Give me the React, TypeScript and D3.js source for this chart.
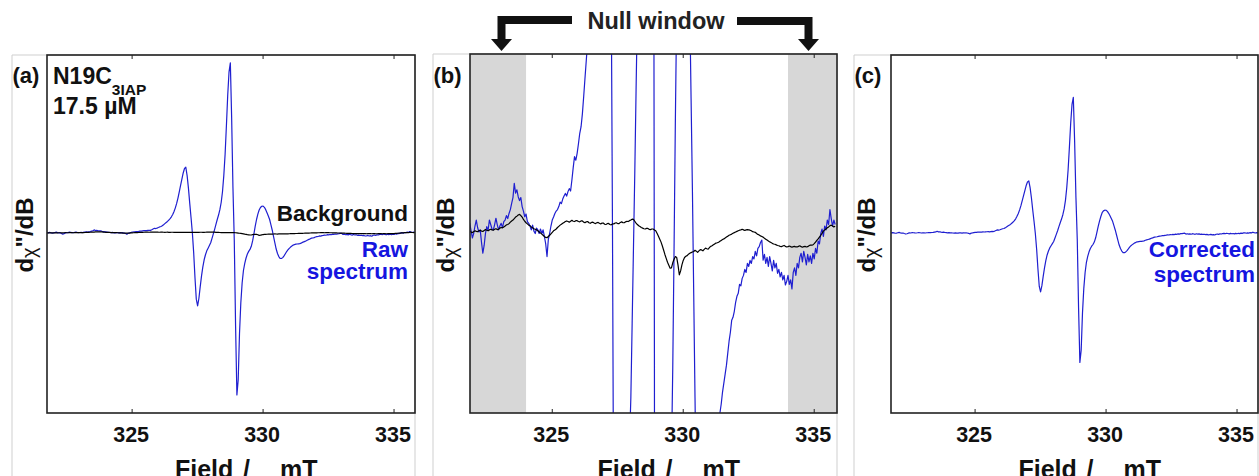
import * as d3 from 'd3';

// field sweep of the spectrometer (mT)
const sweepStart = 321.75;
const sweepStep = 0.05;

// raw first-derivative spectrum, one value per field point (arb. units)
const rawSpectrum = [
  2.0, 0.5, 3.4, 1.0, -1.5, 0.0, 2.5, 4.5, 2.0, 0.5, 1.2, -3.0, -6.6, -4.0, 0.0, 2.3, 1.0, 4.5, 3.0, 1.5,
  1.2, 3.0, 5.1, 3.0, 1.2, 2.5, 3.4, 2.0, 4.0, 4.5, 6.0, 5.0, 6.7, 8.0, 10.1, 12.0, 16.8, 13.5, 14.6, 12.3,
  11.0, 12.0, 9.0, 7.5, 5.6, 6.5, 4.0, 3.4, 2.5, 1.2, 2.8, 0.8, 0.0, 1.8, 1.2, 0.0, 1.5, 0.0, 1.2, -1.0,
  -3.5, -7.7, -2.0, 0.0, 2.5, 4.5, 5.5, 6.7, 7.5, 8.0, 9.0, 10.5, 10.0, 11.5, 12.5, 13.4, 12.5, 14.0, 15.0, 14.2,
  17.9, 22.0, 25.7, 24.5, 26.8, 30.0, 33.5, 35.7, 40.0, 45.8, 52.0, 58.0, 64.0, 72.0, 80.0, 90.0, 103, 120, 140, 165,
  195, 230, 265, 300, 335, 360, 367, 320, 250, 165, 85, 0, -110, -250, -370, -408, -365, -300, -240, -190,
  -150, -122, -100, -85, -70, -55, -30, -5, 20, 48, 75, 100, 130, 170, 230, 320, 440, 600, 770, 900,
  950, 640, 250, -40, -520, -905, -820, -560, -390, -280, -210, -170, -140, -118, -103, -92, -75, -45, -5, 38,
  75, 105, 128, 142, 149, 150, 143, 130, 113, 95, 75, 45, 15, -20, -55, -90, -115, -132, -142, -143,
  -138, -128, -116, -104, -94, -86, -79, -73, -68, -65, -63, -62, -61, -60, -57, -53, -50, -47, -44, -40,
  -36, -33, -29, -28, -26, -23, -21, -20, -17, -17.5, -15, -14, -12, -13, -10, -11, -9, -10, -7.7, -8.5,
  -6, -7.5, -5, -4.4, -3, -2.2, -8.9, -7, -10, -8, -11, -7.7, -10, -12.5, -9, -11.5, -10, -13.3, -12, -14.5,
  -13, -15.5, -14, -17.2, -16, -14, -17, -15.5, -18.5, -13, -11.5, -14, -10, -11.5, -8, -6.6, -9.5, -6, -8, -10.5,
  -7, -9.5, -7.5, -10, -6.6, -8.5, -5, -6.6, -2.5, -3.5, 0, 1.5, -1, 2.5, 1.2, 4.5, 3, 8, 5, 2.5,
  4.5, 3.0,
];

// cavity background on the same field points
const background = [
  0.4, 0.7, 0.8, 0.5, 0.3, 0.6, 0.9, 0.7, 0.6, 0.9, 1.1, 0.8, 0.7, 1.0, 1.3, 1.1, 0.9, 1.2, 1.4, 1.2,
  1.1, 1.4, 1.6, 1.3, 1.4, 1.8, 2.0, 1.9, 2.2, 2.5, 2.9, 3.0, 3.3, 3.8, 4.2, 4.5, 5.0, 5.5, 5.8, 6.2,
  6.4, 6.0, 5.5, 4.7, 4.1, 3.6, 3.2, 2.8, 2.6, 2.2, 1.9, 1.6, 1.4, 1.2, 0.9, 0.5, 0.2, -0.2, -0.6, -1.0,
  -1.3, -1.4, -1.0, -0.6, -0.1, 0.4, 0.9, 1.2, 1.5, 2.0, 2.4, 2.8, 3.1, 3.4, 3.7, 4.0, 4.2, 4.0, 3.8, 4.1,
  4.4, 4.1, 4.0, 4.3, 4.3, 4.0, 3.9, 4.2, 4.2, 3.8, 3.6, 3.9, 4.0, 3.6, 3.4, 3.7, 3.8, 3.5, 3.3, 3.6,
  3.7, 3.4, 3.2, 3.5, 3.5, 3.1, 3.0, 3.3, 3.4, 3.0, 2.9, 3.2, 3.2, 3.5, 3.6, 3.3, 3.3, 3.7, 3.9, 3.6,
  3.6, 3.9, 4.1, 4.0, 4.3, 4.5, 4.8, 4.7, 4.1, 3.5, 3.0, 2.6, 2.3, 2.0, 1.8, 1.6, 1.5, 1.7, 1.7, 1.4,
  1.3, 1.5, 1.5, 1.2, 0.9, 0.1, -0.8, -1.8, -2.8, -4.1, -5.5, -7.0, -8.3, -9.6, -10.6, -11.6, -11.5, -9.8, -8.6, -7.7,
  -8.0, -10.5, -13.8, -12.5, -10.5, -9.0, -8.0, -7.6, -7.4, -6.9, -6.6, -6.4, -6.2, -6.0, -5.6, -5.9, -6.3, -5.8, -5.4, -5.5,
  -5.8, -5.3, -4.9, -5.1, -5.2, -4.7, -4.3, -4.1, -3.8, -3.5, -3.2, -3.1, -2.9, -2.6, -2.3, -2.0, -1.8, -1.5, -1.2, -0.9,
  -0.6, -0.4, -0.2, 0.1, 0.3, 0.5, 0.7, 0.9, 1.1, 1.2, 1.4, 1.2, 1.0, 1.2, 1.3, 1.2, 1.1, 0.9, 0.6, 0.5,
  0.4, 0.0, -0.3, -0.5, -0.8, -1.0, -1.2, -1.6, -1.9, -2.2, -2.5, -2.8, -3.0, -3.3, -3.5, -3.6, -3.8, -4.0, -4.1, -4.3,
  -4.4, -4.2, -4.0, -4.3, -4.5, -4.4, -4.2, -4.4, -4.6, -4.4, -4.3, -4.5, -4.5, -4.3, -4.1, -4.4, -4.6, -4.4, -4.3, -4.5,
  -4.4, -4.1, -3.9, -3.9, -3.8, -3.4, -2.9, -2.3, -1.8, -1.2, -0.6, 0.1, 0.8, 1.2, 1.5, 1.9, 2.2, 2.6, 2.8, 2.5,
  2.2, 2.4,
];

const fieldTicks = [325, 330, 335];
// null window regions (mT) used for the background fit
const nullWindows = [[321.75, 324.0], [334.0, 336.0]];

const fields = rawSpectrum.map((_, i) => sweepStart + i * sweepStep);
// background subtracted spectrum
const corrected = rawSpectrum.map((v, i) => v - background[i]);

const BLUE_LINE = '#1f1fd0';
const BLUE_TEXT = '#1515e0';
const INK = '#111';
const FONT = "'Liberation Sans', Arial, sans-serif";

type Box = { left: number; right: number; top: number; bottom: number; outer: number };
type Series = { values: number[]; color: string };

function Panel({ id, box, xDomain, yDomain, series, shaded = [], tag, children }: {
  id: string; box: Box; xDomain: number[]; yDomain: number[]; series: Series[];
  shaded?: number[][]; tag: string; children?: any;
}) {
  const x = d3.scaleLinear().domain(xDomain).range([box.left, box.right]);
  const y = d3.scaleLinear().domain(yDomain).range([box.bottom, box.top]);
  const line = d3.line<number>().x((_, i) => x(fields[i])).y(d => y(d));
  const mid = (box.left + box.right) / 2;
  const w = box.right - box.left;
  const h = box.bottom - box.top;

  return (
    <g>
      {/* edge of the original sub-figure */}
      <path d={`M${box.outer},480V${box.top}H${box.right}V480`} fill="none" stroke="#cfcfcf" strokeWidth={1} />
      <clipPath id={`clip-${id}`}>
        <rect x={box.left} y={box.top} width={w} height={h} />
      </clipPath>
      <g clipPath={`url(#clip-${id})`}>
        {shaded.map(([a, b], i) => (
          <rect key={i} x={x(a)} y={box.top} width={x(b) - x(a)} height={h} fill="#d7d7d7" />
        ))}
        {series.map((s, i) => (
          <path key={i} d={line(s.values) ?? ''} fill="none" stroke={s.color} strokeWidth={1.2} strokeLinejoin="round" />
        ))}
      </g>
      <rect x={box.left} y={box.top} width={w} height={h} fill="none" stroke="#222" strokeWidth={1.6} />
      {fieldTicks.map(t => (
        <g key={t}>
          <line x1={x(t)} x2={x(t)} y1={box.bottom} y2={box.bottom - 4} stroke="#222" strokeWidth={1} />
          <line x1={x(t)} x2={x(t)} y1={box.top} y2={box.top + 4} stroke="#222" strokeWidth={1} />
          <text x={x(t) - 1} y={442} textAnchor="middle" fontSize={21.5} fontWeight="bold" fill={INK}>{t}</text>
        </g>
      ))}
      <text y={478} fontSize={25} fontWeight="bold" fill={INK}>
        <tspan x={mid - 56}>Field</tspan>
        <tspan x={mid + 12}>/</tspan>
        <tspan x={mid + 49}>mT</tspan>
      </text>
      <text transform={`translate(${box.outer + 21},235) rotate(-90)`} textAnchor="middle" fontSize={24} fontWeight="bold" fill={INK}>
        d<tspan fontSize={20} fontWeight="normal" dy={3}>χ</tspan><tspan dy={-3}>"/dB</tspan>
      </text>
      <text x={box.outer + 0.5} y={83} fontSize={22} fontWeight="bold" fill={INK}>{tag}</text>
      {children}
    </g>
  );
}

export default function App() {
  return (
    <svg width={1259} height={476} style={{ position: 'absolute', left: 0, top: 0, background: '#fff' }} fontFamily={FONT}>
      <rect width={1259} height={476} fill="#fff" />

      {/* (a) raw spectrum and background */}
      <Panel
        id="a"
        box={{ left: 47, right: 415, top: 55, bottom: 413, outer: 12 }}
        xDomain={[321.75, 335.8]}
        yDomain={[-1006, 994]}
        series={[{ values: rawSpectrum, color: BLUE_LINE }, { values: background, color: '#000' }]}
        tag="(a)"
      >
        <text x={53} y={84} fontSize={23} fontWeight="bold" fill={INK}>
          N19C<tspan fontSize={15.5} dy={11}>3IAP</tspan>
        </text>
        <text x={53} y={114} fontSize={23} fontWeight="bold" fill={INK}>17.5 µM</text>
        <text x={408} y={221} textAnchor="end" fontSize={22.5} fontWeight="bold" fill={INK}>Background</text>
        <text x={408} y={257} textAnchor="end" fontSize={22.5} fontWeight="bold" fill={BLUE_TEXT}>Raw</text>
        <text x={408} y={279} textAnchor="end" fontSize={22.5} fontWeight="bold" fill={BLUE_TEXT}>spectrum</text>
      </Panel>

      {/* (b) zoom on the baseline with null windows */}
      <Panel
        id="b"
        box={{ left: 470, right: 837, top: 54, bottom: 413, outer: 433 }}
        xDomain={[321.86, 335.87]}
        yDomain={[-60, 60]}
        series={[{ values: rawSpectrum, color: BLUE_LINE }, { values: background, color: '#000' }]}
        shaded={nullWindows}
        tag="(b)"
      />

      {/* (c) corrected spectrum */}
      <Panel
        id="c"
        box={{ left: 891, right: 1258, top: 55, bottom: 413, outer: 854 }}
        xDomain={[321.79, 335.8]}
        yDomain={[-1258, 1244]}
        series={[{ values: corrected, color: BLUE_LINE }]}
        tag="(c)"
      >
        <text x={1255} y={257} textAnchor="end" fontSize={22.5} fontWeight="bold" fill={BLUE_TEXT}>Corrected</text>
        <text x={1255} y={282} textAnchor="end" fontSize={22.5} fontWeight="bold" fill={BLUE_TEXT}>spectrum</text>
      </Panel>

      {/* null window annotation */}
      <text x={656} y={29} textAnchor="middle" fontSize={23.5} fontWeight="bold" fill="#222">Null window</text>
      <path d="M572,20H501.5V40" fill="none" stroke="#111" strokeWidth={8} />
      <path d="M491,39H512L501.5,51Z" fill="#111" />
      <path d="M737,21H808.5V40" fill="none" stroke="#111" strokeWidth={8} />
      <path d="M798,39H819L808.5,51Z" fill="#111" />
    </svg>
  );
}
